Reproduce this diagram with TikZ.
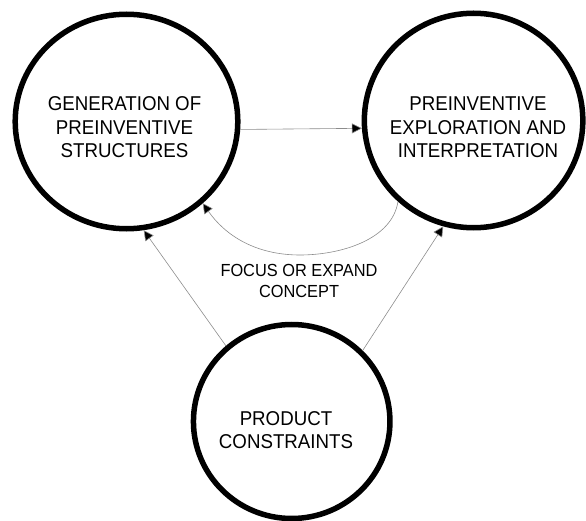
\documentclass[tikz,border=0pt]{standalone}
\usepackage{fontspec}
\newfontfamily\diafont[FakeStretch=0.935]{Liberation Sans}
\usetikzlibrary{shapes.geometric,arrows.meta}
\begin{document}
\begin{tikzpicture}[x=1pt,y=-1pt,
  stage/.style={ellipse,draw=black,line width=5.5pt,inner sep=0pt},
  stagetext/.style={align=center,inner sep=0pt,
    font=\diafont\fontsize{20}{23.5}\selectfont},
  link/.style={draw=black!45,line width=0.6pt,
    -{Triangle[length=10pt,width=10pt,fill=black]}},
  lbl/.style={align=center,inner sep=0pt,
    font=\diafont\fontsize{17.5}{21}\selectfont}]
\useasboundingbox (0,0) rectangle (586,521);
% the three stages
\node[stage,minimum width=222.6pt,minimum height=214.5pt] (gen) at (126.5,121.5) {};
\node[stage,minimum width=218.5pt,minimum height=214.5pt] (exp) at (473.6,120.5) {};
\node[stage,minimum width=196.5pt,minimum height=194pt] (pc) at (291.7,421.5) {};
\node[stagetext] (gent) at (124.5,127.5) {GENERATION OF\\PREINVENTIVE\\STRUCTURES};
\node[stagetext] (expt) at (478,127.5) {PREINVENTIVE\\EXPLORATION AND\\INTERPRETATION};
\node[stagetext] (pct) at (286,430) {PRODUCT\\CONSTRAINTS};
\node[lbl] (fc) at (299,280.5) {FOCUS OR EXPAND\\CONCEPT};
% connectors
\draw[link] (gen.-4) -- (exp.184);
\draw[link] (exp.227) .. controls (392,240) and (340,255) .. (300,255)
  .. controls (255,255) and (225,235) .. (gen.-47);
\draw[link] (pc.131) -- (gen.-81);
\draw[link] (pc.45) -- (exp.-106);
\end{tikzpicture}
\end{document}
